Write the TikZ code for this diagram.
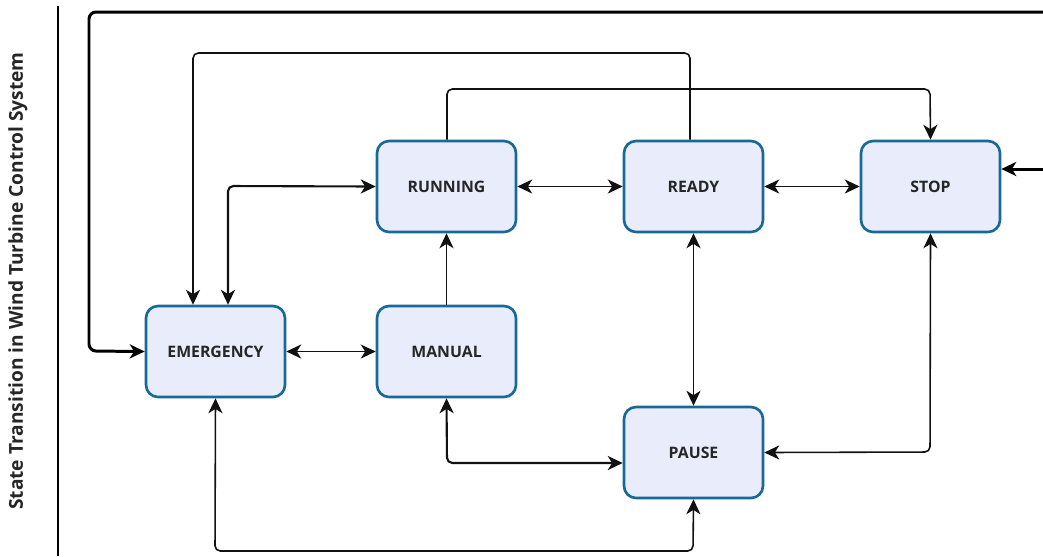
\documentclass[tikz,border=0pt]{standalone}
\usepackage{fontspec}
\setmainfont{Open Sans}
\usetikzlibrary{arrows.meta}
\definecolor{stateedge}{HTML}{17699A}
\definecolor{statefill}{HTML}{E8ECFB}
\definecolor{linecol}{HTML}{111111}
\tikzset{
  state/.style={draw=stateedge, fill=statefill, line width=1.5pt, rounded corners=0.24cm,
    minimum width=2.78cm, minimum height=1.82cm, inner sep=0pt,
    font=\fontsize{9}{11}\selectfont\bfseries, text=black!85},
  tip/.tip={Stealth[length=8.5pt, width=8pt, inset=2.5pt]},
  conn/.style={draw=linecol, line width=0.9pt, rounded corners=3pt},
  heavy/.style={draw=black, line width=1.7pt, rounded corners=4pt},
}
\begin{document}
\begin{tikzpicture}[x=0.02cm, y=-0.02cm]
  \useasboundingbox (0,0) rectangle (1043,556);
  \clip (0,0) rectangle (1043,556);

  % title and separator
  \node[rotate=90, font=\fontsize{10.9}{12}\selectfont\bfseries, text=black!85] (title) at (18,281)
    {State Transition in Wind Turbine Control System};
  \draw[line width=0.7pt] (58,6) -- (58,556);

  % states
  \node[state] (running)   at (446.5,186.5) {RUNNING};
  \node[state] (ready)     at (693.5,186.5) {READY};
  \node[state] (stop)      at (930.5,186.5) {STOP};
  \node[state] (emergency) at (215.5,351.5) {EMERGENCY};
  \node[state] (manual)    at (446.5,351.5) {MANUAL};
  \node[state] (pause)     at (693.5,452.5) {PAUSE};

  % returns from beyond the right edge
  \coordinate (outtop) at (1070,12);
  \coordinate (outmid) at (1070,169);
  \draw[heavy, -{tip}] (outtop) -- (89,12) -- (89,351) -- (emergency.west);
  \draw[heavy, -{tip}] (outmid) -- (stop.east |- 0,169);

  % long top routes
  \draw[conn, -{tip}] (ready.north -| 690,0) -- (690,53) -- (193,53) -- (emergency.north -| 193,0);
  \draw[conn, -{tip}] (running.north -| 447,0) -- (447,89) -- (930,89) -- (stop.north);

  % neighbouring states
  \draw[conn, line width=1.2pt, {tip}-{tip}] (emergency.north -| 228,0) -- (228,186) -- (running.west);
  \draw[conn, {tip}-{tip}] (running.east) -- (ready.west);
  \draw[conn, {tip}-{tip}] (ready.east) -- (stop.west);
  \draw[conn, -{tip}] (manual.north) -- (running.south);
  \draw[conn, {tip}-{tip}] (emergency.east) -- (manual.west);
  \draw[conn, {tip}-{tip}] (ready.south) -- (pause.north);
  \draw[conn, {tip}-{tip}] (stop.south) -- (930,452) -- (pause.east);
  \draw[conn, line width=1.2pt, {tip}-{tip}] (manual.south) -- (447,463) -- (pause.west |- 0,463);
  \draw[conn, {tip}-{tip}] (emergency.south) -- (215,551) -- (693,551) -- (pause.south);
\end{tikzpicture}
\end{document}
